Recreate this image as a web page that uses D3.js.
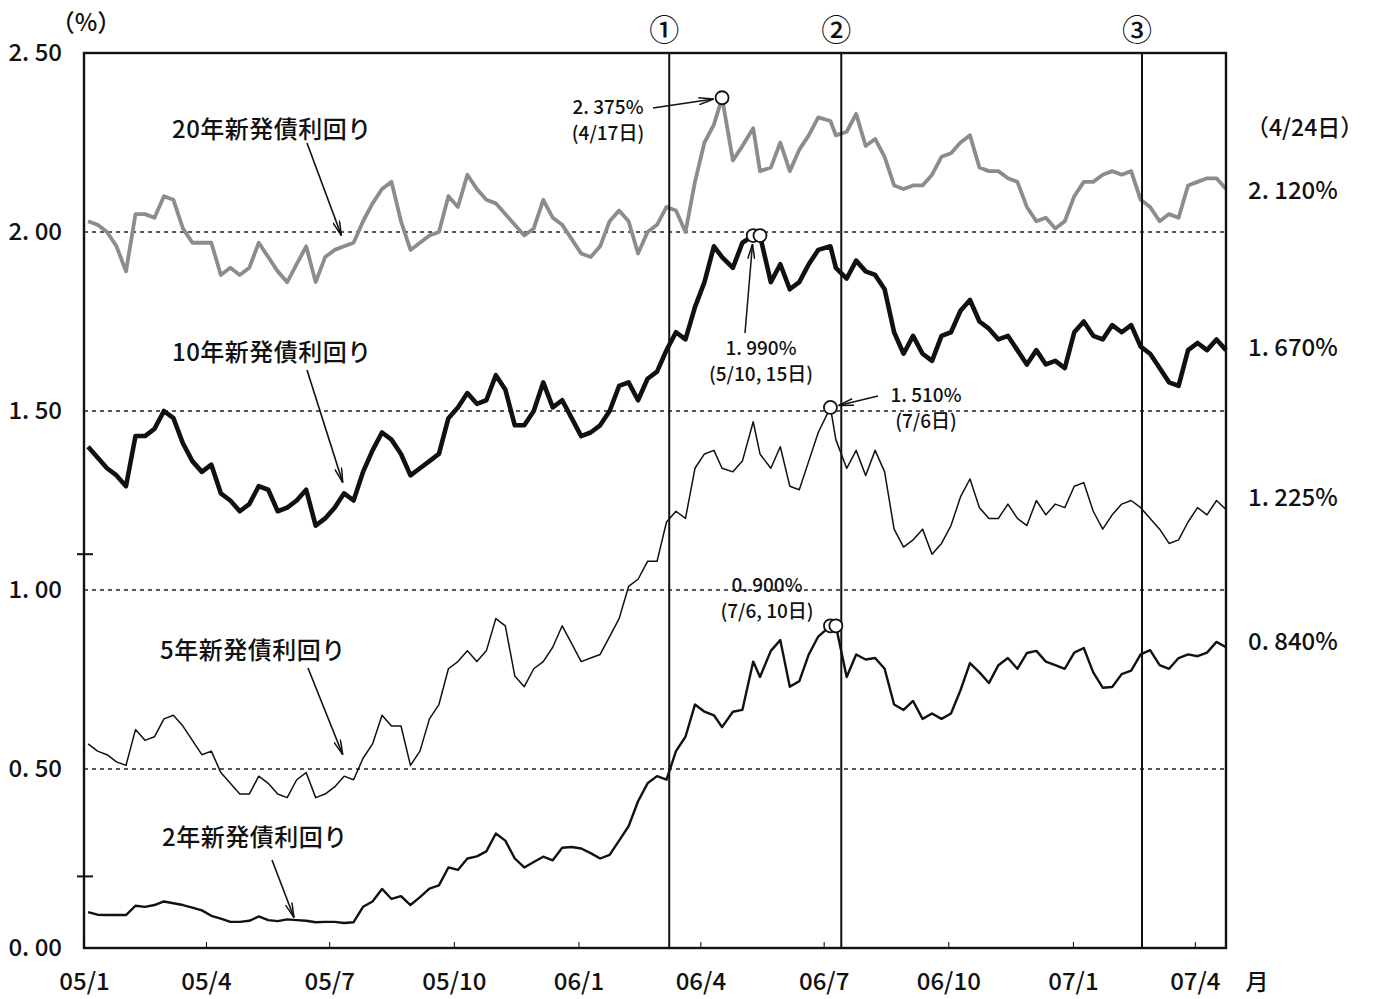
<!DOCTYPE html>
<html>
<head>
<meta charset="utf-8">
<script src="https://cdn.jsdelivr.net/npm/d3@7"></script>
<style>
    body { margin: 0; background: #fff; }
    svg text { font-family: "Noto Sans CJK JP", "Noto Sans", sans-serif; font-weight: 500; fill: #111; }
</style>
</head>
<body>
<div id="chart"></div>
<script>
// weekly observations (Tuesdays); a few weeks use the marked day instead
const markedDays = {
    "2006-04-18": "2006-04-17",
    "2006-05-09": "2006-05-10",
    "2006-05-16": "2006-05-15",
    "2006-07-04": "2006-07-06",
    "2006-07-11": "2006-07-10"
};

// 20-year new issue yield (%)
const yield20 = [
    2.03, 2.02, 2.00, 1.96, 1.89, 2.05, 2.05, 2.04, 2.10, 2.09,
    2.01, 1.97, 1.97, 1.97, 1.88, 1.90, 1.88, 1.90, 1.97, 1.93,
    1.89, 1.86, 1.91, 1.96, 1.86, 1.93, 1.95, 1.96, 1.97, 2.03,
    2.08, 2.12, 2.14, 2.03, 1.95, 1.97, 1.99, 2.00, 2.10, 2.07,
    2.16, 2.12, 2.09, 2.08, 2.05, 2.02, 1.99, 2.01, 2.09, 2.04,
    2.02, 1.98, 1.94, 1.93, 1.96, 2.03, 2.06, 2.03, 1.94, 2.00,
    2.02, 2.07, 2.06, 2.00, 2.14, 2.25, 2.30, 2.375, 2.20, 2.24,
    2.29, 2.17, 2.18, 2.25, 2.17, 2.23, 2.27, 2.32, 2.31, 2.27,
    2.28, 2.33, 2.24, 2.26, 2.21, 2.13, 2.12, 2.13, 2.13, 2.16,
    2.21, 2.22, 2.25, 2.27, 2.18, 2.17, 2.17, 2.15, 2.14, 2.07,
    2.03, 2.04, 2.01, 2.03, 2.10, 2.14, 2.14, 2.16, 2.17, 2.16,
    2.17, 2.09, 2.07, 2.03, 2.05, 2.04, 2.13, 2.14, 2.15, 2.15, 2.12
];

// 10-year new issue yield (%)
const yield10 = [
    1.40, 1.37, 1.34, 1.32, 1.29, 1.43, 1.43, 1.45, 1.50, 1.48,
    1.41, 1.36, 1.33, 1.35, 1.27, 1.25, 1.22, 1.24, 1.29, 1.28,
    1.22, 1.23, 1.25, 1.28, 1.18, 1.20, 1.23, 1.27, 1.25, 1.33,
    1.39, 1.44, 1.42, 1.38, 1.32, 1.34, 1.36, 1.38, 1.48, 1.51,
    1.55, 1.52, 1.53, 1.60, 1.56, 1.46, 1.46, 1.50, 1.58, 1.51,
    1.53, 1.48, 1.43, 1.44, 1.46, 1.50, 1.57, 1.58, 1.53, 1.59,
    1.61, 1.67, 1.72, 1.70, 1.79, 1.86, 1.96, 1.93, 1.90, 1.97,
    1.99, 1.99, 1.86, 1.91, 1.84, 1.86, 1.91, 1.95, 1.96, 1.90,
    1.87, 1.92, 1.89, 1.88, 1.84, 1.72, 1.66, 1.71, 1.66, 1.64,
    1.71, 1.72, 1.78, 1.81, 1.75, 1.73, 1.70, 1.71, 1.67, 1.63,
    1.67, 1.63, 1.64, 1.62, 1.72, 1.75, 1.71, 1.70, 1.74, 1.72,
    1.74, 1.68, 1.66, 1.62, 1.58, 1.57, 1.67, 1.69, 1.67, 1.70, 1.67
];

// 5-year new issue yield (%)
const yield5 = [
    0.57, 0.55, 0.54, 0.52, 0.51, 0.61, 0.58, 0.59, 0.64, 0.65,
    0.62, 0.58, 0.54, 0.55, 0.49, 0.46, 0.43, 0.43, 0.48, 0.46,
    0.43, 0.42, 0.47, 0.49, 0.42, 0.43, 0.45, 0.48, 0.47, 0.53,
    0.57, 0.65, 0.62, 0.62, 0.51, 0.55, 0.64, 0.68, 0.78, 0.80,
    0.83, 0.80, 0.83, 0.92, 0.90, 0.76, 0.73, 0.78, 0.80, 0.84,
    0.90, 0.85, 0.80, 0.81, 0.82, 0.87, 0.92, 1.01, 1.03, 1.08,
    1.08, 1.19, 1.22, 1.20, 1.34, 1.38, 1.39, 1.34, 1.33, 1.36,
    1.47, 1.38, 1.34, 1.40, 1.29, 1.28, 1.36, 1.44, 1.51, 1.42,
    1.34, 1.39, 1.32, 1.39, 1.33, 1.17, 1.12, 1.14, 1.17, 1.10,
    1.13, 1.18, 1.26, 1.31, 1.23, 1.20, 1.20, 1.24, 1.20, 1.18,
    1.25, 1.21, 1.24, 1.23, 1.29, 1.30, 1.22, 1.17, 1.21, 1.24,
    1.25, 1.23, 1.20, 1.17, 1.13, 1.14, 1.19, 1.23, 1.21, 1.25, 1.225
];

// 2-year new issue yield (%)
const yield2 = [
    0.100, 0.093, 0.092, 0.092, 0.092, 0.118, 0.115, 0.120, 0.130, 0.125,
    0.120, 0.113, 0.105, 0.090, 0.082, 0.073, 0.073, 0.076, 0.088, 0.078,
    0.075, 0.080, 0.078, 0.076, 0.072, 0.073, 0.073, 0.070, 0.072, 0.115,
    0.130, 0.165, 0.137, 0.145, 0.120, 0.142, 0.166, 0.175, 0.225, 0.218,
    0.250, 0.256, 0.270, 0.320, 0.300, 0.250, 0.225, 0.240, 0.255, 0.245,
    0.280, 0.282, 0.278, 0.265, 0.250, 0.260, 0.300, 0.340, 0.410, 0.460,
    0.480, 0.470, 0.550, 0.590, 0.680, 0.660, 0.650, 0.617, 0.660, 0.665,
    0.800, 0.757, 0.830, 0.860, 0.730, 0.745, 0.820, 0.870, 0.900, 0.900,
    0.757, 0.820, 0.806, 0.810, 0.780, 0.680, 0.665, 0.690, 0.640, 0.655,
    0.640, 0.655, 0.720, 0.796, 0.770, 0.740, 0.790, 0.810, 0.780, 0.824,
    0.830, 0.800, 0.790, 0.780, 0.825, 0.838, 0.770, 0.727, 0.729, 0.765,
    0.775, 0.820, 0.832, 0.790, 0.780, 0.810, 0.820, 0.815, 0.825, 0.855, 0.840
];

const seriesNames = ["20年新発債利回り", "10年新発債利回り", "5年新発債利回り", "2年新発債利回り"];

const quarterTicks = ["2005-01-01", "2005-04-01", "2005-07-01", "2005-10-01", "2006-01-01",
                      "2006-04-01", "2006-07-01", "2006-10-01", "2007-01-01", "2007-04-01"];
const yTicks = [0, 0.5, 1.0, 1.5, 2.0, 2.5];
const gridValues = [0.5, 1.0, 1.5, 2.0];
const axisMarks = [0.2, 1.1];

const eventDates = ["2006-03-09", "2006-07-14", "2007-02-21"];
const eventNames = ["①", "②", "③"];

// highlighted highs: series index, days, value
const highSeries = [0, 1, 2, 3];
const highDays = [["2006-04-17"], ["2006-05-10", "2006-05-15"], ["2006-07-06"], ["2006-07-06", "2006-07-10"]];
const highValues = [2.375, 1.990, 1.510, 0.900];
const highDayText = ["(4/17日)", "(5/10, 15日)", "(7/6日)", "(7/6, 10日)"];


YieldChart = function(_parentElement) {
    this.parentElement = _parentElement;
    this.initVis();
};

YieldChart.prototype.initVis = function() {
    let vis = this;

    vis.parseDay = d3.timeParse("%Y-%m-%d");
    vis.fmtDay = d3.timeFormat("%Y-%m-%d");

    vis.dates = d3.timeTuesday.range(new Date(2005, 0, 4), new Date(2007, 3, 25))
        .map(function(d) {
            let k = vis.fmtDay(d);
            return markedDays[k] ? vis.parseDay(markedDays[k]) : d;
        });

    vis.series = [yield20, yield10, yield5, yield2];
    vis.style = [
        { color: "#8c8c8c", width: 3.8, labelDy: 10 },
        { color: "#111", width: 4.6, labelDy: 6 },
        { color: "#111", width: 1.5, labelDy: -3 },
        { color: "#111", width: 2.4, labelDy: 3 }
    ];

    vis.svg = d3.select(vis.parentElement).append("svg")
        .attr("width", 1373)
        .attr("height", 999);

    vis.x = d3.scaleTime()
        .domain([new Date(2005, 0, 1), new Date(2007, 3, 24)])
        .range([84, 1226]);

    vis.y = d3.scaleLinear()
        .domain([0, 2.5])
        .range([948, 53]);

    let defs = vis.svg.append("defs");
    defs.append("marker")
        .attr("id", "arrow")
        .attr("viewBox", "0 0 16 8")
        .attr("refX", 15)
        .attr("refY", 4)
        .attr("markerWidth", 16)
        .attr("markerHeight", 8)
        .attr("markerUnits", "userSpaceOnUse")
        .attr("orient", "auto")
        .append("path")
        .attr("d", "M0,0.5 L15,4 L0,7.5")
        .attr("fill", "none")
        .attr("stroke", "#111")
        .attr("stroke-width", 1.5);

    // dashed reference lines
    vis.svg.selectAll(".grid")
        .data(gridValues)
        .enter().append("line")
        .attr("class", "grid")
        .attr("x1", 84)
        .attr("x2", 1226)
        .attr("y1", d => vis.y(d))
        .attr("y2", d => vis.y(d))
        .attr("stroke", "#222")
        .attr("stroke-width", 1.3)
        .attr("stroke-dasharray", "4 4");

    // yield lines
    let line = d3.line()
        .x(function(d, i) { return vis.x(vis.dates[i]); })
        .y(function(d) { return vis.y(d); });

    vis.svg.selectAll(".yield")
        .data(vis.series)
        .enter().append("path")
        .attr("class", "yield")
        .attr("fill", "none")
        .attr("stroke", (d, i) => vis.style[i].color)
        .attr("stroke-width", (d, i) => vis.style[i].width)
        .attr("stroke-linejoin", "round")
        .attr("d", line);

    // policy events
    vis.svg.selectAll(".event")
        .data(eventDates)
        .enter().append("line")
        .attr("class", "event")
        .attr("x1", d => vis.x(vis.parseDay(d)))
        .attr("x2", d => vis.x(vis.parseDay(d)))
        .attr("y1", vis.y(2.5))
        .attr("y2", vis.y(0))
        .attr("stroke", "#111")
        .attr("stroke-width", 2);

    vis.svg.selectAll(".event-label")
        .data(eventDates)
        .enter().append("text")
        .attr("class", "event-label")
        .attr("x", d => vis.x(vis.parseDay(d)) - 5)
        .attr("y", 41)
        .attr("text-anchor", "middle")
        .attr("font-size", 30)
        .text((d, i) => eventNames[i]);

    // frame
    vis.svg.append("rect")
        .attr("x", vis.x.range()[0])
        .attr("y", vis.y(2.5))
        .attr("width", vis.x.range()[1] - vis.x.range()[0])
        .attr("height", vis.y(0) - vis.y(2.5))
        .attr("fill", "none")
        .attr("stroke", "#111")
        .attr("stroke-width", 2.4);

    // axes
    let xAxis = d3.axisBottom(vis.x)
        .tickValues(quarterTicks.map(vis.parseDay))
        .tickFormat(d => d3.timeFormat("%y")(d) + "/" + (d.getMonth() + 1))
        .tickSize(-6)
        .tickPadding(25);

    vis.svg.append("g")
        .attr("transform", "translate(0," + vis.y(0) + ")")
        .call(xAxis)
        .call(g => g.select(".domain").remove())
        .attr("font-family", null)
        .attr("font-size", 24);

    let yAxis = d3.axisLeft(vis.y)
        .tickValues(yTicks)
        .tickFormat(d => d3.format(".2f")(d).replace(".", ". "))
        .tickSize(0)
        .tickPadding(22);

    vis.svg.append("g")
        .attr("transform", "translate(" + vis.x.range()[0] + ",0)")
        .call(yAxis)
        .call(g => g.select(".domain").remove())
        .attr("font-family", null)
        .attr("font-size", 24);

    vis.svg.selectAll(".axis-mark")
        .data(axisMarks)
        .enter().append("line")
        .attr("x1", 77)
        .attr("x2", 93)
        .attr("y1", d => vis.y(d))
        .attr("y2", d => vis.y(d))
        .attr("stroke", "#111")
        .attr("stroke-width", 2);

    vis.svg.append("text")
        .attr("x", 86)
        .attr("y", 31)
        .attr("text-anchor", "middle")
        .attr("font-size", 24)
        .text("（%）");

    vis.svg.append("text")
        .attr("x", 1257)
        .attr("y", 990)
        .attr("text-anchor", "middle")
        .attr("font-size", 23)
        .text("月");

    // latest values on the right
    let last = vis.dates[vis.dates.length - 1];
    vis.svg.append("text")
        .attr("x", 1246)
        .attr("y", 136)
        .attr("font-size", 23)
        .text("（" + (last.getMonth() + 1) + "/" + last.getDate() + "日）");

    vis.svg.selectAll(".last-label")
        .data(vis.series)
        .enter().append("text")
        .attr("class", "last-label")
        .attr("x", 1248)
        .attr("y", (d, i) => vis.y(d[d.length - 1]) + vis.style[i].labelDy)
        .attr("font-size", 24)
        .text(d => d3.format(".3f")(d[d.length - 1]).replace(".", ". ") + "%");

    // series names with arrows (text position, arrow start, arrow target on the line)
    let nameLayout = [
        { x: 172, y: 138, from: [307, 143], to: ["2005-07-10", 1.99] },
        { x: 172, y: 361, from: [307, 370], to: ["2005-07-11", 1.30] },
        { x: 160, y: 659, from: [308, 668], to: ["2005-07-11", 0.54] },
        { x: 162, y: 846, from: [272, 860], to: ["2005-06-05", 0.085] }
    ];

    nameLayout.forEach(function(p, i) {
        vis.svg.append("text")
            .attr("x", p.x)
            .attr("y", p.y)
            .attr("font-size", 24)
            .attr("letter-spacing", 0.5)
            .text(seriesNames[i]);

        vis.svg.append("line")
            .attr("x1", p.from[0])
            .attr("y1", p.from[1])
            .attr("x2", vis.x(vis.parseDay(p.to[0])))
            .attr("y2", vis.y(p.to[1]))
            .attr("stroke", "#111")
            .attr("stroke-width", 1.6)
            .attr("marker-end", "url(#arrow)");
    });

    // highs: circles, value + date text, arrows
    let noteLayout = [
        { x: 608, y: 114, from: [653, 108] },
        { x: 761, y: 355, from: [745, 333] },
        { x: 926, y: 402, from: [878, 396] },
        { x: 767, y: 592, from: null }
    ];
    let r = 6.5;

    highSeries.forEach(function(s, i) {
        let pts = highDays[i].map(d => [vis.x(vis.parseDay(d)), vis.y(highValues[i])]);
        let p = noteLayout[i];

        if (p.from) {
            let t = pts[0];
            let dx = t[0] - p.from[0], dy = t[1] - p.from[1];
            let len = Math.sqrt(dx * dx + dy * dy);
            let k = (len - r - 2) / len;
            vis.svg.append("line")
                .attr("x1", p.from[0])
                .attr("y1", p.from[1])
                .attr("x2", p.from[0] + dx * k)
                .attr("y2", p.from[1] + dy * k)
                .attr("stroke", "#111")
                .attr("stroke-width", 1.5)
                .attr("marker-end", "url(#arrow)");
        }

        vis.svg.selectAll(".high-" + s)
            .data(pts)
            .enter().append("circle")
            .attr("cx", d => d[0])
            .attr("cy", d => d[1])
            .attr("r", r)
            .attr("fill", "#fff")
            .attr("stroke", "#111")
            .attr("stroke-width", 1.8);

        vis.svg.append("text")
            .attr("x", p.x)
            .attr("y", p.y)
            .attr("text-anchor", "middle")
            .attr("font-size", 19)
            .text(d3.format(".3f")(highValues[i]).replace(".", ". ") + "%");

        vis.svg.append("text")
            .attr("x", p.x)
            .attr("y", p.y + 26)
            .attr("text-anchor", "middle")
            .attr("font-size", 19)
            .text(highDayText[i]);
    });
};

new YieldChart("#chart");
</script>
</body>
</html>
